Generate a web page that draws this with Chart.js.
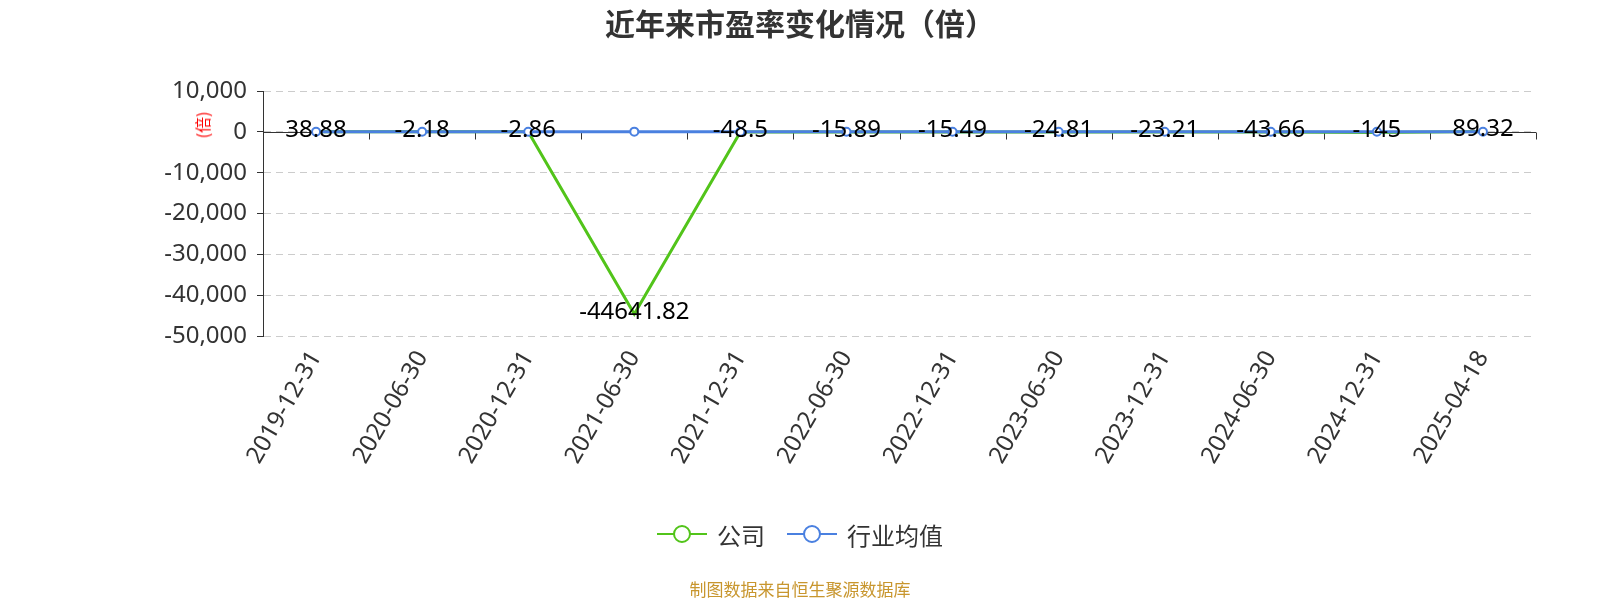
<!DOCTYPE html>
<html>
<head>
<meta charset="utf-8">
<script src="https://cdn.jsdelivr.net/npm/chart.js@4"></script>
<style>
  body { margin: 0; background: #fff; font-family: "Microsoft YaHei", "Noto Sans CJK SC", sans-serif; }
  #wrap { position: relative; width: 1600px; height: 600px; }
  #chart { position: absolute; left: 0; top: 0; }
  #title { position: absolute; left: 0; top: 0; width: 1600px; line-height: 44px; text-align: center;
           font-size: 30px; font-weight: bold; color: #333; }
  #unit { position: absolute; left: 202px; top: 125px; transform: translate(-50%, -50%) rotate(-90deg);
          color: #f00; font-size: 16px; white-space: nowrap; }
  #legend { position: absolute; left: 0; top: 518px; width: 1600px; height: 32px; display: flex;
            justify-content: center; align-items: center; gap: 22px; font-size: 24px; color: #333; }
  #legend span.item { display: flex; align-items: center; gap: 10px; }
  #source { position: absolute; left: 0; top: 577px; width: 1600px; text-align: center; font-size: 17px;
            line-height: 24px; color: #c8962e; }
</style>
</head>
<body>
<div id="wrap">
  <canvas id="chart" width="1600" height="600"></canvas>
  <div id="title">近年来市盈率变化情况（倍）</div>
  <div id="unit">(倍)</div>
  <div id="legend"></div>
  <div id="source">制图数据来自恒生聚源数据库</div>
</div>
<script>
// Data
const dates = ["2019-12-31", "2020-06-30", "2020-12-31", "2021-06-30", "2021-12-31", "2022-06-30",
               "2022-12-31", "2023-06-30", "2023-12-31", "2024-06-30", "2024-12-31", "2025-04-18"];
const companyPE = [38.88, -2.18, -2.86, -44641.82, -48.5, -15.89, -15.49, -24.81, -23.21, -43.66, -145, 89.32];
const industryPE = [32.5, 38.1, 41.6, 45.2, 36.8, 30.4, 27.9, 29.3, 26.1, 23.7, 27.4, 30.2];
const seriesNames = ["公司", "行业均值"];
const seriesColors = ["#52c41a", "#4a80e0"];
const yTicks = { min: -50000, max: 10000, step: 10000 };

const chartElement = document.getElementById("chart");

// Legend built from the series names / colours
const legendBox = document.getElementById("legend");
seriesNames.forEach((name, i) => {
  const c = seriesColors[i];
  legendBox.insertAdjacentHTML("beforeend",
    `<span class="item"><svg width="50" height="20"><line x1="0" y1="10" x2="50" y2="10" stroke="${c}" stroke-width="2"/>` +
    `<circle cx="25" cy="10" r="8" fill="#fff" stroke="${c}" stroke-width="2"/></svg><span>${name}</span></span>`);
});

// zero axis line with category ticks
const zeroAxis = {
  id: "zeroAxis",
  beforeDatasetsDraw(chart) {
    const { ctx, chartArea, scales } = chart;
    const y0 = Math.round(scales.y.getPixelForValue(0)) + 0.5;
    ctx.save();
    ctx.strokeStyle = "#333";
    ctx.lineWidth = 1;
    ctx.beginPath();
    ctx.moveTo(chartArea.left, y0);
    ctx.lineTo(chartArea.right, y0);
    for (let i = 0; i <= dates.length; i++) {
      const x = Math.round(scales.x.getPixelForValue(i - 0.5)) + 0.5;
      ctx.moveTo(x, y0);
      ctx.lineTo(x, y0 + 7);
    }
    ctx.stroke();
    ctx.restore();
  }
};

const numFamily = '"Noto Sans", "Noto Sans CJK SC", sans-serif';

// value labels on company points
const pointLabels = {
  id: "pointLabels",
  afterDatasetsDraw(chart) {
    const { ctx } = chart;
    const meta = chart.getDatasetMeta(0);
    ctx.save();
    ctx.font = "24px " + numFamily;
    ctx.fillStyle = "#000";
    ctx.textAlign = "center";
    ctx.textBaseline = "middle";
    meta.data.forEach((pt, i) => {
      ctx.fillText(String(companyPE[i]), pt.x, pt.y - 2);
    });
    ctx.restore();
  }
};

const tickFont = { family: numFamily, size: 24 };

const config = {
  type: "line",
  data: {
    labels: dates,
    datasets: [
      {
        label: seriesNames[0],
        data: companyPE,
        borderColor: seriesColors[0],
        backgroundColor: "#fff",
        borderWidth: 3,
        pointRadius: 0,
        tension: 0,
        order: 1
      },
      {
        label: seriesNames[1],
        data: industryPE,
        borderColor: seriesColors[1],
        backgroundColor: "#fff",
        pointBackgroundColor: "#fff",
        pointBorderColor: seriesColors[1],
        pointBorderWidth: 2,
        pointRadius: 4,
        borderWidth: 3,
        tension: 0,
        order: 0
      }
    ]
  },
  options: {
    responsive: false,
    animation: false,
    layout: { padding: { top: 91, right: 64, bottom: 110, left: 0 } },
    plugins: {
      legend: { display: false },
      title: { display: false },
      tooltip: { enabled: false }
    },
    scales: {
      x: {
        offset: true,
        grid: { display: false, drawTicks: false },
        border: { display: false },
        ticks: {
          autoSkip: false,
          maxRotation: 60,
          minRotation: 60,
          padding: 10,
          color: "#333",
          font: tickFont
        },
        afterFit: (scale) => { scale.height = 154; }
      },
      y: {
        min: yTicks.min,
        max: yTicks.max,
        grid: { color: "#ccc", tickColor: "#333", tickLength: 6, drawTicks: true },
        border: { display: true, color: "#333", width: 1, dash: [7, 5] },
        ticks: {
          stepSize: yTicks.step,
          padding: 10,
          color: "#333",
          font: tickFont,
          callback: (v) => v.toLocaleString("en-US")
        },
        afterFit: (scale) => { scale.width = 263; }
      }
    }
  },
  plugins: [zeroAxis, pointLabels]
};

const chart = new Chart(chartElement, config);
</script>
</body>
</html>
